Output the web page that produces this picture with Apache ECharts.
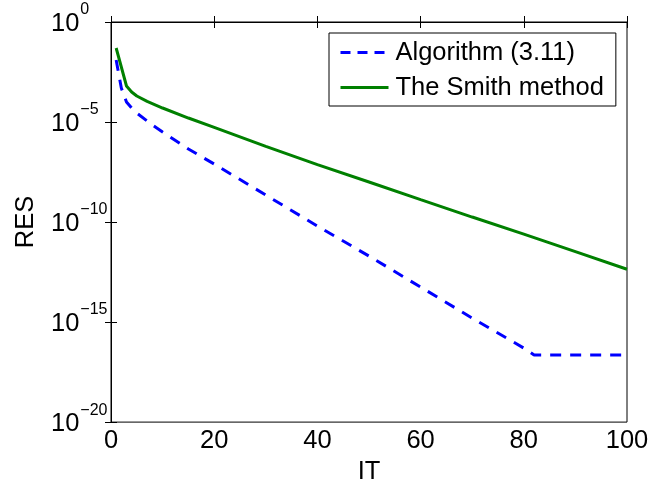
<!DOCTYPE html>
<html>
<head>
<meta charset="utf-8">
<script src="https://cdn.jsdelivr.net/npm/echarts@6/dist/echarts.min.js"></script>
<style>
  html, body { margin: 0; padding: 0; background: #fff; }
  #chart { width: 652px; height: 490px; }
</style>
</head>
<body>
<div id="chart"></div>
<script>
// iterations and log10(RES)
const algIt = [1, 2, 3, 4, 5, 8, 10, 15, 20, 30, 40, 50, 60, 70, 80, 82, 90, 100]
const algLogRes = [-1.9, -3.3, -4.0, -4.3, -4.55, -5.15, -5.5, -6.35, -7.1, -8.65, -10.2, -11.7, -13.25, -14.8, -16.3, -16.65, -16.65, -16.65]
const smithIt = [1, 2, 3, 4, 5, 7, 10, 15, 20, 30, 40, 50, 60, 70, 80, 90, 100]
const smithLogRes = [-1.3, -2.25, -3.2, -3.5, -3.7, -3.97, -4.3, -4.8, -5.27, -6.22, -7.13, -8.0, -8.88, -9.75, -10.6, -11.48, -12.36]
const xTicks = [0, 20, 40, 60, 80, 100]
const yTicks = [-20, -15, -10, -5, 0]

const FONT = 'Liberation Sans, Arial, Helvetica, sans-serif'

function pairs(xs, ys) {
  return xs.map((x, i) => [x, ys[i]])
}

// 10 with a raised exponent, like the log axis labels
function powLabel(v) {
  const e = v === 0 ? '0' : '\u2212' + (-v)
  return '{b|10}{s|' + e + '}'
}

const chartObj = echarts.init(document.getElementById('chart'))

const axisLine = { show: true, lineStyle: { color: '#000', width: 1 } }
const axisTick = { show: true, inside: true, length: 6, lineStyle: { color: '#000', width: 1 } }

chartObj.setOption({
  animation: false,
  backgroundColor: '#fff',
  textStyle: { fontFamily: FONT },
  grid: {
    left: 111,
    right: 25,
    top: 22,
    bottom: 64,
    show: true,
    borderColor: '#000',
    borderWidth: 1
  },
  legend: {
    orient: 'vertical',
    left: 329,
    top: 33,
    padding: [5, 12, 4, 10],
    itemWidth: 48,
    itemHeight: 20,
    itemGap: 6,
    borderColor: '#000',
    borderWidth: 1,
    backgroundColor: '#fff',
    itemStyle: { opacity: 0 },
    data: [
      { name: 'Algorithm (3.11)', lineStyle: { width: 3, type: [10, 7] } },
      { name: 'The Smith method', lineStyle: { width: 3 } }
    ],
    textStyle: { fontSize: 25.5, color: '#000', fontFamily: FONT, lineHeight: 29, padding: [0, 0, 0, 2] }
  },
  xAxis: [
    {
      type: 'value',
      min: xTicks[0],
      max: xTicks[xTicks.length - 1],
      interval: xTicks[1] - xTicks[0],
      name: 'IT',
      nameLocation: 'middle',
      nameGap: 31,
      nameTextStyle: { fontSize: 25.5, color: '#000', fontFamily: FONT },
      axisLine: axisLine,
      axisTick: axisTick,
      axisLabel: { fontSize: 25.5, color: '#000', margin: 6, fontFamily: FONT },
      splitLine: { show: false }
    },
    {
      type: 'value',
      position: 'top',
      min: xTicks[0],
      max: xTicks[xTicks.length - 1],
      interval: xTicks[1] - xTicks[0],
      axisLine: axisLine,
      axisTick: axisTick,
      axisLabel: { show: false },
      splitLine: { show: false }
    }
  ],
  yAxis: [
    {
      type: 'value',
      min: yTicks[0],
      max: yTicks[yTicks.length - 1],
      interval: yTicks[1] - yTicks[0],
      name: 'RES',
      nameLocation: 'middle',
      nameGap: 72,
      nameTextStyle: { fontSize: 25.5, color: '#000', fontFamily: FONT },
      axisLine: axisLine,
      axisTick: axisTick,
      axisLabel: {
        align: 'left',
        margin: 60,
        formatter: powLabel,
        rich: {
          b: { fontSize: 25.5, color: '#000', fontFamily: FONT, lineHeight: 26, padding: [3, 0, 0, 0] },
          s: { fontSize: 16, color: '#000', fontFamily: FONT, lineHeight: 16, padding: [0, 0, 24, 1] }
        }
      },
      splitLine: { show: false }
    },
    {
      type: 'value',
      position: 'right',
      min: yTicks[0],
      max: yTicks[yTicks.length - 1],
      interval: yTicks[1] - yTicks[0],
      axisLine: axisLine,
      axisTick: axisTick,
      axisLabel: { show: false },
      splitLine: { show: false }
    }
  ],
  series: [
    {
      name: 'The Smith method',
      type: 'line',
      symbol: 'none',
      color: '#008000',
      lineStyle: { color: '#008000', width: 3 },
      data: pairs(smithIt, smithLogRes)
    },
    {
      name: 'Algorithm (3.11)',
      type: 'line',
      symbol: 'none',
      color: '#0000ff',
      lineStyle: { color: '#0000ff', width: 3, type: [11, 9] },
      data: pairs(algIt, algLogRes)
    }
  ]
})
</script>
</body>
</html>
